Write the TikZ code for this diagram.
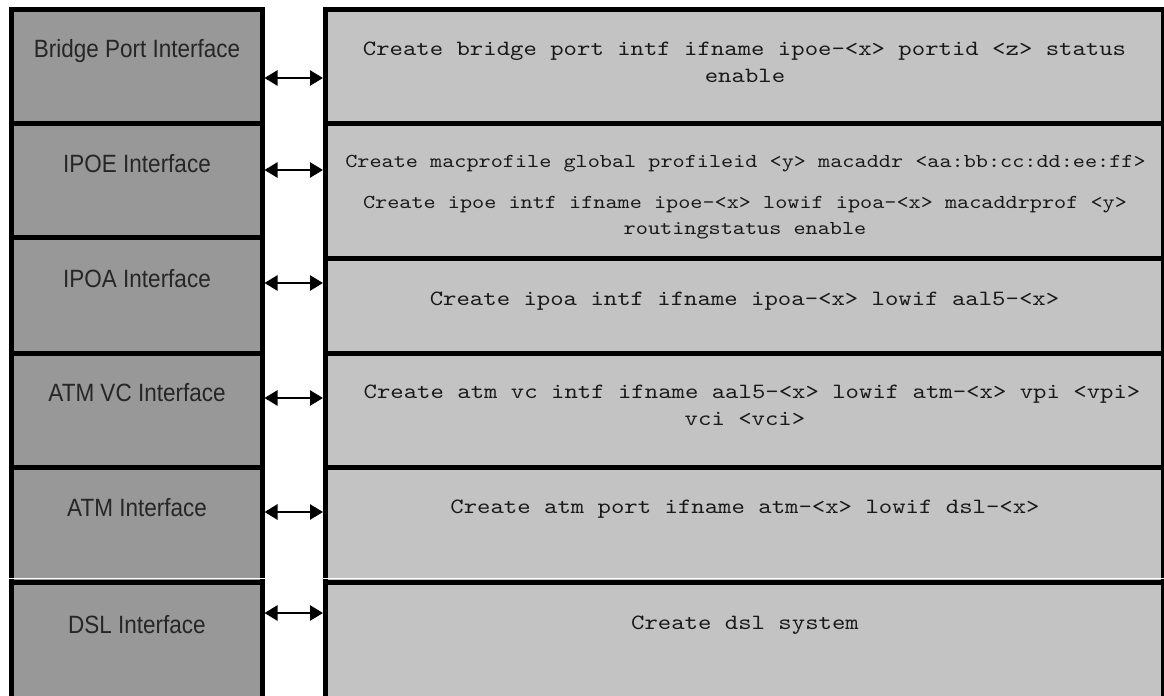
\documentclass[tikz,border=0pt]{standalone}
\usepackage{fontspec}
\setmainfont{Liberation Sans}
\usetikzlibrary{arrows.meta}
\definecolor{leftgray}{RGB}{152,152,152}
\definecolor{rightgray}{RGB}{195,195,195}
\newcommand{\lbl}[1]{\scalebox{0.9}[1]{#1}}
\newcommand{\cmdtxt}[1]{\scalebox{1.17}[1]{#1}}
\tikzset{
  lbox/.style={draw=black, line width=2.5pt, fill=leftgray, inner sep=0pt, minimum width=125.25pt},
  rbox/.style={draw=black, line width=2.5pt, fill=rightgray, inner sep=0pt, minimum width=418.75pt},
  llabel/.style={anchor=base, inner sep=0pt, font=\fontsize{12.5}{14}\selectfont, text=black!85},
  cmd/.style={anchor=base, inner sep=0pt, font=\ttfamily\fontsize{10.9}{13}\selectfont, text=black!90},
  cmdsmall/.style={anchor=base, inner sep=0pt, font=\ttfamily\fontsize{9.87}{12}\selectfont, text=black!90},
  dblarrow/.style={line width=1.3pt, {Triangle[length=6.5pt,width=7.5pt]}-{Triangle[length=6.5pt,width=7.5pt]}}
}
\begin{document}
\begin{tikzpicture}[x=0.5pt, y=-0.5pt]
\useasboundingbox (0,0) rectangle (1164,696);
\clip (0,0) rectangle (1164,696);
\fill[white] (0,0) rectangle (1164,696);
% left column
\node[lbox, minimum height=56.75pt] (L1) at (136.75,66.25) {};
\node[lbox, minimum height=57.25pt] (L2) at (136.75,180.25) {};
\node[lbox, minimum height=57.75pt] (L3) at (136.75,295.25) {};
\node[lbox, minimum height=57.25pt] (L4) at (136.75,410.25) {};
\node[lbox, minimum height=57.25pt] (L5) at (136.75,524.75) {};
\node[lbox, minimum height=59pt] (L6) at (136.75,641) {};
% right column
\node[rbox, minimum height=56.75pt] (R1) at (744.25,66.25) {};
\node[rbox, minimum height=67.75pt] (R2) at (744.25,190.75) {};
\node[rbox, minimum height=47.25pt] (R3) at (744.25,305.75) {};
\node[rbox, minimum height=57.25pt] (R4) at (744.25,410.25) {};
\node[rbox, minimum height=57.25pt] (R5) at (744.25,524.75) {};
\node[rbox, minimum height=59pt] (R6) at (744.25,641) {};
% thin white gap above the DSL row
\draw[white, line width=0.8pt] (0,578.3) -- (1164,578.3);
% left labels
\node[llabel] (t1) at (137,57) {\lbl{Bridge Port Interface}};
\node[llabel] (t2) at (137,172) {\lbl{IPOE Interface}};
\node[llabel] (t3) at (137,287) {\lbl{IPOA Interface}};
\node[llabel] (t4) at (137,401) {\lbl{ATM VC Interface}};
\node[llabel] (t5) at (137,516) {\lbl{ATM Interface}};
\node[llabel] (t6) at (137,633) {\lbl{DSL Interface}};
% right commands
\node[cmd] (c1a) at (744.5,55) {\cmdtxt{Create bridge port intf ifname ipoe-<x> portid <z> status}};
\node[cmd] (c1b) at (745,83) {\cmdtxt{enable}};
\node[cmdsmall] (c2a) at (745.5,167) {\cmdtxt{Create macprofile global profileid <y> macaddr <aa:bb:cc:dd:ee:ff>}};
\node[cmdsmall] (c2b) at (745,208) {\cmdtxt{Create ipoe intf ifname ipoe-<x> lowif ipoa-<x> macaddrprof <y>}};
\node[cmdsmall] (c2c) at (745,234) {\cmdtxt{routingstatus enable}};
\node[cmd] (c3) at (744.5,305) {\cmdtxt{Create ipoa intf ifname ipoa-<x> lowif aal5-<x>}};
\node[cmd] (c4a) at (752,398) {\cmdtxt{Create atm vc intf ifname aal5-<x> lowif atm-<x> vpi <vpi>}};
\node[cmd] (c4b) at (745,425) {\cmdtxt{vci <vci>}};
\node[cmd] (c5) at (745,513) {\cmdtxt{Create atm port ifname atm-<x> lowif dsl-<x>}};
\node[cmd] (c6) at (745,629) {\cmdtxt{Create dsl system}};
% arrows
\coordinate (a1) at (0,78);
\coordinate (a2) at (0,170);
\coordinate (a3) at (0,283);
\coordinate (a4) at (0,398);
\coordinate (a5) at (0,512);
\coordinate (a6) at (0,613);
\draw[dblarrow] (L1.east |- a1) -- (R1.west |- a1);
\draw[dblarrow] (L2.east |- a2) -- (R2.west |- a2);
\draw[dblarrow] (L3.east |- a3) -- (R3.west |- a3);
\draw[dblarrow] (L4.east |- a4) -- (R4.west |- a4);
\draw[dblarrow] (L5.east |- a5) -- (R5.west |- a5);
\draw[dblarrow] (L6.east |- a6) -- (R6.west |- a6);
\end{tikzpicture}
\end{document}
